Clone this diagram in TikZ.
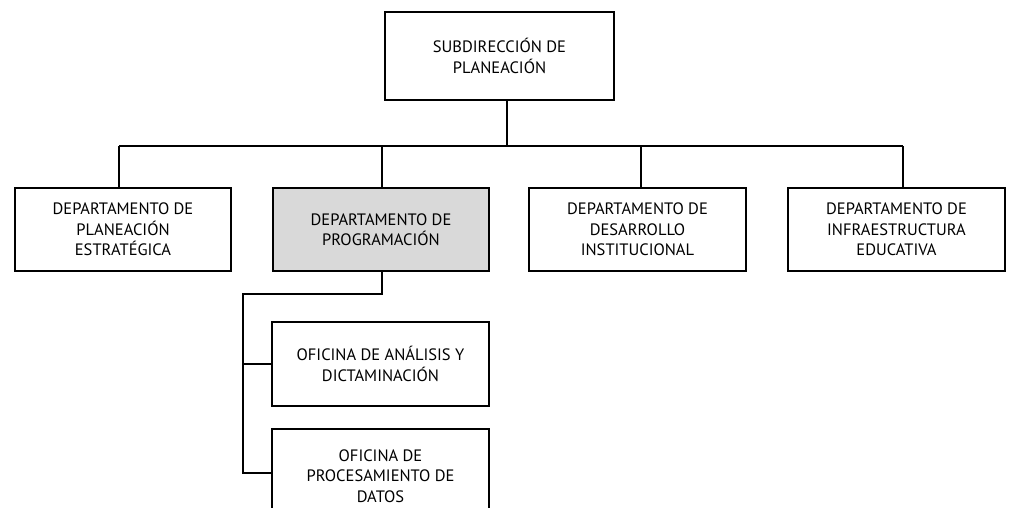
\documentclass[tikz,border=0pt]{standalone}
\usepackage{fontspec}
\setmainfont{PT Sans}
\definecolor{boxgray}{HTML}{D9D9D9}
\begin{document}
\begin{tikzpicture}[x=1pt,y=-1pt,
  orgbox/.style={draw=black,line width=1.5pt,fill=white,align=center,inner sep=2pt,
    font=\fontsize{16.5}{20.5}\selectfont},
  link/.style={draw=black,line width=1.5pt}]
\useasboundingbox (0,0) rectangle (1011,508);
\begin{scope}
\clip (0,0) rectangle (1011,508);
\node[orgbox,minimum width=229pt,minimum height=88pt] (sub) at (499.5,56) {SUBDIRECCIÓN DE\\PLANEACIÓN};
\node[orgbox,minimum width=216pt,minimum height=83pt] (d1) at (123,229.5) {DEPARTAMENTO DE\\PLANEACIÓN\\ESTRATÉGICA};
\node[orgbox,fill=boxgray,minimum width=216pt,minimum height=83pt] (d2) at (381,229.5) {DEPARTAMENTO DE\\PROGRAMACIÓN};
\node[orgbox,minimum width=217pt,minimum height=83pt] (d3) at (637.5,229.5) {DEPARTAMENTO DE\\DESARROLLO\\INSTITUCIONAL};
\node[orgbox,minimum width=217pt,minimum height=83pt] (d4) at (896.5,229.5) {DEPARTAMENTO DE\\INFRAESTRUCTURA\\EDUCATIVA};
\node[orgbox,minimum width=217pt,minimum height=84pt] (o1) at (380.5,364) {OFICINA DE ANÁLISIS Y\\DICTAMINACIÓN};
\node[orgbox,minimum width=217pt,minimum height=94pt] (o2) at (380.5,476) {OFICINA DE\\PROCESAMIENTO DE\\DATOS};
\coordinate (busL) at (119,146);
\coordinate (busR) at (903,146);
\coordinate (subfoot) at (507,146);
\coordinate (sbend) at (382,294);
\coordinate (sleft) at (243,294);
\coordinate (o1in) at (243,364);
\coordinate (o2in) at (243,473);
\draw[link] (sub.south -| subfoot) -- (subfoot);
\draw[link] (busL) -- (busR);
\draw[link] (busL) -- (d1.north -| busL);
\draw[link] (382,146) -- (d2.north -| sbend);
\draw[link] (641,146) -- (d3.north -| 641,0);
\draw[link] (busR) -- (d4.north -| busR);
\draw[link] (d2.south -| sbend) -- (sbend) -- (sleft) -- (o2in) -- (o2.west |- o2in);
\draw[link] (o1in) -- (o1.west);
\end{scope}
\end{tikzpicture}
\end{document}
